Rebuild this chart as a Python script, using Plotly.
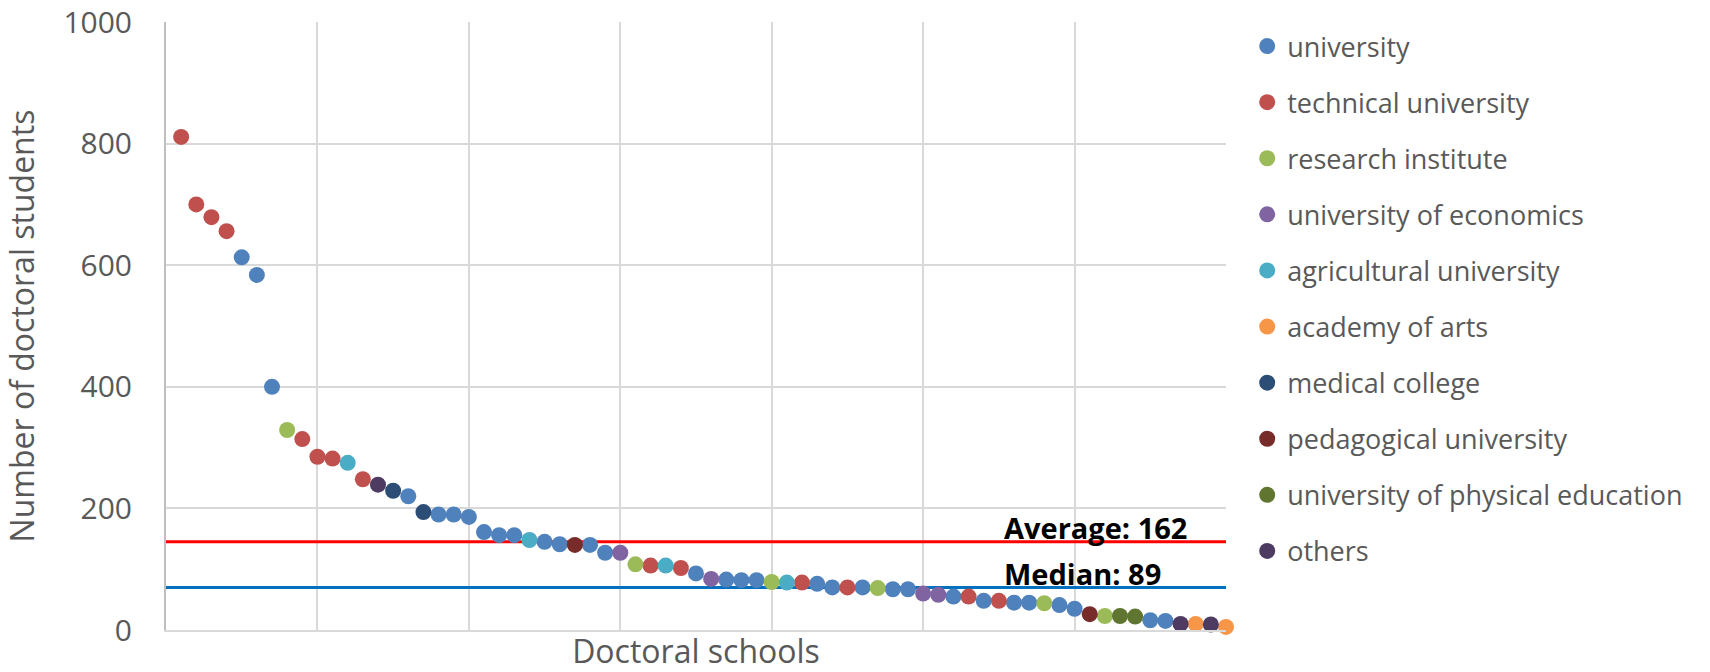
import plotly.graph_objects as go

# ---- data ----
categories = [
    "university", "technical university", "research institute",
    "university of economics", "agricultural university", "academy of arts",
    "medical college", "pedagogical university",
    "university of physical education", "others",
]
category_colors = [
    "#4F81BD", "#C0504D", "#9BBB59", "#8064A2", "#4BACC6", "#F79646",
    "#2C4D75", "#772C2A", "#5F7530", "#4D3B62",
]
# doctoral students per doctoral school (sorted, descending)
students = [
    811, 700, 679, 656, 613, 584, 400, 329, 314, 285,
    282, 275, 248, 239, 229, 220, 194, 190, 190, 186,
    161, 156, 156, 148, 145, 141, 140, 140, 127, 127,
    108, 106, 106, 102, 93, 84, 83, 82, 82, 79,
    78, 78, 76, 70, 70, 70, 69, 67, 67, 60,
    58, 55, 55, 48, 48, 45, 45, 44, 41, 35,
    26, 23, 23, 22, 16, 15, 10, 10, 9, 5,
]
school_type = [
    "technical university", "technical university", "technical university", "technical university",
    "university", "university", "university", "research institute",
    "technical university", "technical university",
    "technical university", "agricultural university", "technical university", "others",
    "medical college", "university", "medical college", "university", "university", "university",
    "university", "university", "university", "agricultural university", "university",
    "university", "pedagogical university", "university", "university", "university of economics",
    "research institute", "technical university", "agricultural university", "technical university",
    "university", "university of economics", "university", "university", "university",
    "research institute",
    "agricultural university", "technical university", "university", "university",
    "technical university", "university", "research institute", "university", "university",
    "university of economics",
    "university of economics", "university", "technical university", "university",
    "technical university", "university", "university", "research institute", "university",
    "university",
    "pedagogical university", "research institute", "university of physical education",
    "university of physical education", "university", "university", "others",
    "academy of arts", "others", "academy of arts",
]
average_line = 145
median_line = 70
average_label = "Average: 162"
median_label = "Median: 89"
y_ticks = [0, 200, 400, 600, 800, 1000]

school_index = list(range(1, len(students) + 1))
x_max = len(students)

fig = go.Figure()

# reference lines
fig.add_trace(go.Scatter(x=[0, x_max], y=[average_line, average_line], mode="lines",
                         line=dict(color="#FF0000", width=3), showlegend=False,
                         hoverinfo="skip", cliponaxis=False))
fig.add_trace(go.Scatter(x=[0, x_max], y=[median_line, median_line], mode="lines",
                         line=dict(color="#0070C0", width=3), showlegend=False,
                         hoverinfo="skip", cliponaxis=False))

for cat, col in zip(categories, category_colors):
    xs = [i for i, t in zip(school_index, school_type) if t == cat]
    ys = [v for v, t in zip(students, school_type) if t == cat]
    fig.add_trace(go.Scatter(
        x=xs, y=ys, mode="markers", name=cat, legendgroup=cat,
        marker=dict(color=col, size=16, line=dict(width=0)),
        cliponaxis=False,
    ))

fig.add_annotation(x=55.2, y=168, text="<b>" + average_label + "</b>", showarrow=False,
                   xanchor="left", yanchor="middle",
                   font=dict(family="Open Sans", size=29, color="#000000"))
fig.add_annotation(x=55.2, y=93, text="<b>" + median_label + "</b>", showarrow=False,
                   xanchor="left", yanchor="middle",
                   font=dict(family="Open Sans", size=29, color="#000000"))

fig.update_layout(
    width=1710, height=672,
    margin=dict(l=166, r=484, t=22, b=42),
    plot_bgcolor="white", paper_bgcolor="white",
    font=dict(family="Open Sans", color="#595959"),
    legend=dict(x=1.02, y=1.0, xanchor="left", yanchor="top",
                font=dict(size=27, color="#595959"), tracegroupgap=18,
                itemsizing="trace"),
    xaxis=dict(range=[0, x_max], dtick=10, tick0=0, showticklabels=False,
               showgrid=True, gridcolor="#D9D9D9", gridwidth=2,
               showline=True, linecolor="#D9D9D9", linewidth=2,
               zeroline=False, ticks="", automargin=False,
               title=dict(text="Doctoral schools", font=dict(size=32, color="#595959"),
                          standoff=20)),
    yaxis=dict(range=[0, 1000], tickvals=y_ticks, ticklabeloverflow="allow",
               showgrid=True, gridcolor="#D9D9D9", gridwidth=2,
               showline=True, linecolor="#BFBFBF", linewidth=2,
               zeroline=False, ticks="", ticklabelstandoff=26, automargin=False,
               tickfont=dict(size=30, color="#595959"),
               title=dict(text="Number of doctoral students",
                          font=dict(size=32, color="#595959"), standoff=24)),
)

fig.write_html("out.html", config={"displayModeBar": False},
               post_script="document.body.style.margin='0';")
